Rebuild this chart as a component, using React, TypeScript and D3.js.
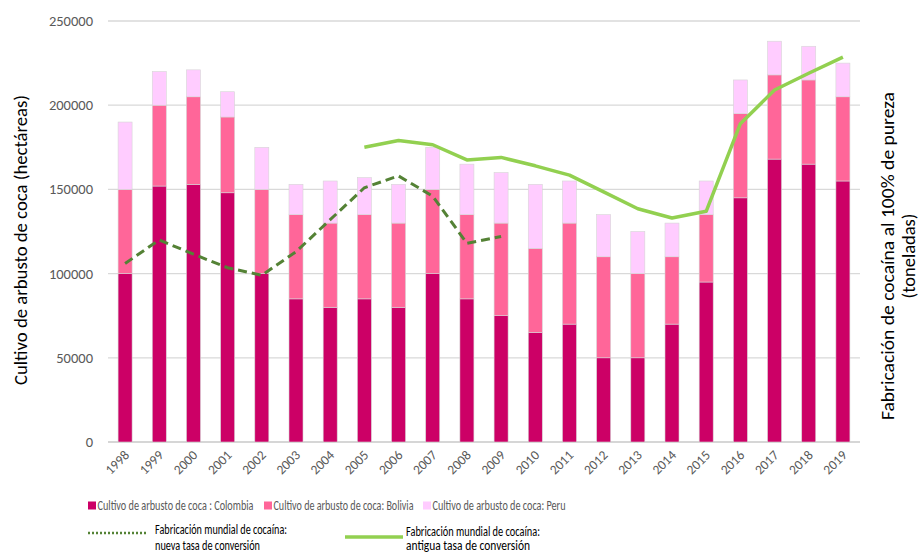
import React, { useEffect } from 'react';
import * as d3 from 'd3';

const years = ['1998', '1999', '2000', '2001', '2002', '2003', '2004', '2005', '2006', '2007', '2008',
  '2009', '2010', '2011', '2012', '2013', '2014', '2015', '2016', '2017', '2018', '2019'];

// hectáreas
const colombia = [100000, 152000, 153000, 148000, 100000, 85000, 80000, 85000, 80000, 100000, 85000,
  75000, 65000, 70000, 50000, 50000, 70000, 95000, 145000, 168000, 165000, 155000];
const bolivia = [50000, 48000, 52000, 45000, 50000, 50000, 50000, 50000, 50000, 50000, 50000,
  55000, 50000, 60000, 60000, 50000, 40000, 40000, 50000, 50000, 50000, 50000];
const peru = [40000, 20000, 16000, 15000, 25000, 18000, 25000, 22000, 23000, 25000, 30000,
  30000, 38000, 25000, 25000, 25000, 20000, 20000, 20000, 20000, 20000, 20000];

// toneladas
const newRateYears = ['1998', '1999', '2000', '2001', '2002', '2003', '2004', '2005', '2006', '2007', '2008', '2009'];
const newRate = [1060, 1200, 1115, 1035, 990, 1130, 1320, 1510, 1580, 1460, 1180, 1220];
const oldRateYears = ['2005', '2006', '2007', '2008', '2009', '2010', '2011', '2012', '2013', '2014',
  '2015', '2016', '2017', '2018', '2019'];
const oldRate = [1750, 1790, 1765, 1675, 1690, 1640, 1585, 1485, 1385, 1330, 1370, 1890, 2090, 2190, 2285];

const yTicks = [0, 50000, 100000, 150000, 200000, 250000];

const seriesNames = ['Cultivo de arbusto de coca : Colombia', 'Cultivo de arbusto de coca: Bolivia', 'Cultivo de arbusto de coca: Peru'];
const colors = ['#cc0066', '#ff6699', '#ffccff'];

const font = "Calibri, Carlito, 'Open Sans', sans-serif";

export default function App() {
  useEffect(() => {
    document.body.style.margin = '0';
  }, []);

  const width = 923, height = 552;
  const x = d3.scaleBand().domain(years).range([108, 860]).paddingInner(0.59).paddingOuter(0.295);
  const y = d3.scaleLinear().domain([0, 250000]).range([442, 21]);
  const yR = d3.scaleLinear().domain([0, 2500]).range([442, 21]);

  const table = years.map((yr, i) => ({ year: yr, c: colombia[i], b: bolivia[i], p: peru[i] }));
  const stacked = d3.stack().keys(['c', 'b', 'p'])(table as any);

  const cx = (yr) => x(yr) + x.bandwidth() / 2;
  const line = d3.line().x(d => cx(d[0])).y(d => yR(d[1]));
  const newPath = line(newRateYears.map((yr, i) => [yr, newRate[i]]) as any);
  const oldPath = line(oldRateYears.map((yr, i) => [yr, oldRate[i]]) as any);

  return (
    <svg width={width} height={height} style={{ display: 'block', background: '#fff' }} fontFamily={font}>
      {yTicks.map(t => (
        <g key={t}>
          <line x1={108} x2={860} y1={y(t)} y2={y(t)} stroke={t === 0 ? '#c8c8c8' : '#d9d9d9'} strokeWidth={1.3} />
          <text x={93} y={y(t)} dy="0.35em" textAnchor="end" fontSize={14.5} fill="#595959">{t}</text>
        </g>
      ))}
      {stacked.map((s, si) => (
        <g key={si} fill={colors[si]}>
          {s.map((d, i) => (
            <rect key={i} x={x(years[i])} width={x.bandwidth()} y={y(d[1])} height={y(d[0]) - y(d[1])}
              stroke="#d6d6d6" strokeWidth={0.6} />
          ))}
        </g>
      ))}
      <path d={newPath} fill="none" stroke="#548235" strokeWidth={3} strokeDasharray="9,5" />
      <path d={oldPath} fill="none" stroke="#92d050" strokeWidth={3.5} strokeLinejoin="round" />

      {years.map(yr => (
        <text key={yr} transform={`translate(${cx(yr) + 5},${456}) rotate(-45)`} textAnchor="end"
          fontSize={13.5} fill="#595959">{yr}</text>
      ))}

      <text transform="translate(27,240) rotate(-90)" textAnchor="middle" fontSize={18.5} fill="#000"
        textLength={290} lengthAdjust="spacingAndGlyphs">Cultivo de arbusto de coca (hectáreas)</text>
      <text transform="translate(894,256) rotate(-90)" textAnchor="middle" fontSize={18.5} fill="#000"
        textLength={328} lengthAdjust="spacingAndGlyphs">Fabricación de cocaína al 100% de pureza</text>
      <text transform="translate(915,256) rotate(-90)" textAnchor="middle" fontSize={18.5} fill="#000">(toneladas)</text>

      {/* legend */}
      {seriesNames.map((n, i) => {
        const lx = [88, 264, 423][i];
        const tw = [156, 140, 133][i];
        return (
          <g key={n}>
            <rect x={lx} y={501.5} width={8} height={8} fill={colors[i]} />
            <text x={lx + 9.5} y={510} fontSize={14.5} fill="#595959" textLength={tw} lengthAdjust="spacingAndGlyphs">{n}</text>
          </g>
        );
      })}
      <line x1={88} x2={147} y1={533} y2={533} stroke="#548235" strokeWidth={2.5} strokeDasharray="2,2" />
      <text x={155} y={534} fontSize={14.5} fill="#000" textLength={132} lengthAdjust="spacingAndGlyphs">Fabricación mundial de cocaína:</text>
      <text x={155} y={550} fontSize={14.5} fill="#000" textLength={105} lengthAdjust="spacingAndGlyphs">nueva tasa de conversión</text>
      <line x1={345} x2={403} y1={537} y2={537} stroke="#92d050" strokeWidth={3.5} />
      <text x={406} y={536} fontSize={14.5} fill="#000" textLength={134} lengthAdjust="spacingAndGlyphs">Fabricación mundial de cocaína:</text>
      <text x={406} y={550} fontSize={14.5} fill="#000" textLength={124} lengthAdjust="spacingAndGlyphs">antigua tasa de conversión</text>
    </svg>
  );
}
